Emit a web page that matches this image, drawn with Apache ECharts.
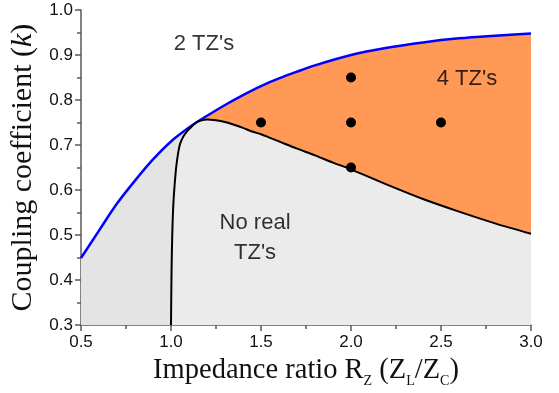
<!DOCTYPE html>
<html>
<head>
<meta charset="utf-8">
<script src="https://cdn.jsdelivr.net/npm/echarts@6/dist/echarts.min.js"></script>
<style>
  html, body { margin: 0; padding: 0; background: #fff; }
  #chart { width: 559px; height: 393px; }
</style>
</head>
<body>
<div id="chart"></div>
<script>
// Upper boundary: above it there are 2 transmission zeros
const blueR = [0.5, 0.6, 0.7, 0.8, 0.9, 1.0, 1.1, 1.14, 1.2, 1.3, 1.4, 1.5, 1.6, 1.7, 1.8, 2.0, 2.2, 2.4, 2.6, 2.8, 3.0];
const blueK = [0.449, 0.510, 0.570, 0.621, 0.668, 0.708, 0.739, 0.750, 0.765, 0.789, 0.811, 0.831, 0.848, 0.863, 0.877, 0.900, 0.916, 0.928, 0.937, 0.943, 0.948];

// Lower boundary: below it there are no real transmission zeros
const blackR = [1.0, 1.003, 1.007, 1.012, 1.018, 1.025, 1.03, 1.04, 1.05, 1.07, 1.09, 1.11, 1.14, 1.17, 1.2, 1.25, 1.3, 1.35, 1.4, 1.45, 1.5, 1.55, 1.6, 1.7, 1.8, 1.9, 2.0, 2.2, 2.4, 2.6, 2.8, 3.0];
const blackK = [0.300, 0.420, 0.500, 0.560, 0.600, 0.635, 0.655, 0.683, 0.702, 0.720, 0.731, 0.739, 0.750, 0.755, 0.757, 0.755, 0.751, 0.745, 0.738, 0.730, 0.724, 0.716, 0.708, 0.692, 0.677, 0.661, 0.646, 0.612, 0.580, 0.552, 0.526, 0.503];

// Design points
const dotR = [1.5, 2.0, 2.0, 2.0, 2.5];
const dotK = [0.75, 0.85, 0.75, 0.65, 0.75];

// Region names
const regionNames = ["2 TZ's", "4 TZ's", "No real\nTZ's"];

// Axis ticks
const xTicks = [0.5, 1.0, 1.5, 2.0, 2.5, 3.0];
const yTicks = [0.3, 0.4, 0.5, 0.6, 0.7, 0.8, 0.9, 1.0];

const pairs = (xs, ys) => xs.map((x, i) => [x, ys[i]]);
const bluePts = pairs(blueR, blueK);
const blackPts = pairs(blackR, blackK);
// the four-zero region starts where the two boundaries meet
const orangePts = bluePts.filter(p => p[0] >= 1.14);

const sans = 'Liberation Sans, Arial, sans-serif';
const serif = 'Liberation Serif, Times New Roman, serif';
const axisColor = '#5a5a5a';
const SMOOTH = 0.3;

function fill(data, color) {
  return {
    type: 'line', data, symbol: 'none', silent: true, z: 1,
    smooth: SMOOTH,
    lineStyle: { width: 0, opacity: 0 },
    areaStyle: { color, opacity: 1, origin: 'start' }
  };
}

const chart = echarts.init(document.getElementById('chart'), null, { renderer: 'canvas' });
chart.setOption({
  animation: false,
  backgroundColor: '#fff',
  grid: { left: 81, right: 28, top: 10, bottom: 66 },
  xAxis: {
    type: 'value',
    min: xTicks[0], max: xTicks[xTicks.length - 1], interval: 0.5,
    splitLine: { show: false },
    axisLine: { show: true, onZero: false, lineStyle: { color: axisColor, width: 1.5 } },
    axisTick: { show: true, length: 6, lineStyle: { color: axisColor, width: 1.5 } },
    minorTick: { show: true, splitNumber: 2, length: 4, lineStyle: { color: axisColor, width: 1.5 } },
    axisLabel: { fontFamily: sans, fontSize: 17, color: '#111', margin: 9,
                 formatter: v => v.toFixed(1) },
    name: 'Impedance ratio R{sub|Z} (Z{sub|L}/Z{sub|C})',
    nameLocation: 'middle',
    nameGap: 25,
    nameTextStyle: {
      fontFamily: serif, fontSize: 28.5, color: '#111',
      rich: {
        sub: { fontFamily: serif, fontSize: 14, color: '#111', padding: [21, 0, 0, 0] }
      }
    }
  },
  yAxis: {
    type: 'value',
    min: yTicks[0], max: yTicks[yTicks.length - 1], interval: 0.1,
    splitLine: { show: false },
    axisLine: { show: true, onZero: false, lineStyle: { color: axisColor, width: 1.5 } },
    axisTick: { show: true, length: 6, lineStyle: { color: axisColor, width: 1.5 } },
    minorTick: { show: true, splitNumber: 2, length: 4, lineStyle: { color: axisColor, width: 1.5 } },
    axisLabel: { fontFamily: sans, fontSize: 17, color: '#111', margin: 8,
                 formatter: v => v.toFixed(1) },
    name: 'Coupling coefficient ({it|k})',
    nameLocation: 'middle',
    nameGap: 40,
    nameTextStyle: {
      fontFamily: serif, fontSize: 30, color: '#111',
      rich: {
        it: { fontFamily: serif, fontSize: 30, fontStyle: 'italic', color: '#111' }
      }
    }
  },
  series: [
    fill(bluePts, '#e4e4e4'),
    fill(orangePts, '#ff9955'),
    fill(blackPts, '#ebebeb'),
    {
      type: 'line', data: bluePts, symbol: 'none', silent: true, z: 3,
      smooth: SMOOTH,
      lineStyle: { color: '#0000ff', width: 2.5 }
    },
    {
      type: 'line', data: blackPts, symbol: 'none', silent: true, z: 3,
      smooth: SMOOTH,
      lineStyle: { color: '#000', width: 2 }
    },
    {
      type: 'scatter', data: pairs(dotR, dotK), symbol: 'circle', symbolSize: 10,
      itemStyle: { color: '#000', opacity: 1 }, silent: true, z: 5
    },
    {
      type: 'scatter', symbol: 'circle', symbolSize: 1, silent: true, z: 6,
      itemStyle: { color: 'rgba(0,0,0,0)' },
      data: [
        { name: regionNames[0], value: [1.183, 0.924] },
        { name: regionNames[1], value: [2.644, 0.846] },
        { name: regionNames[2], value: [1.467, 0.494] }
      ],
      label: {
        show: true, position: 'inside', formatter: '{b}',
        fontFamily: sans, fontSize: 22, color: '#000', lineHeight: 30, align: 'center',
        textBorderWidth: 0
      },
      labelLayout: { hideOverlap: false }
    }
  ]
});
</script>
</body>
</html>
